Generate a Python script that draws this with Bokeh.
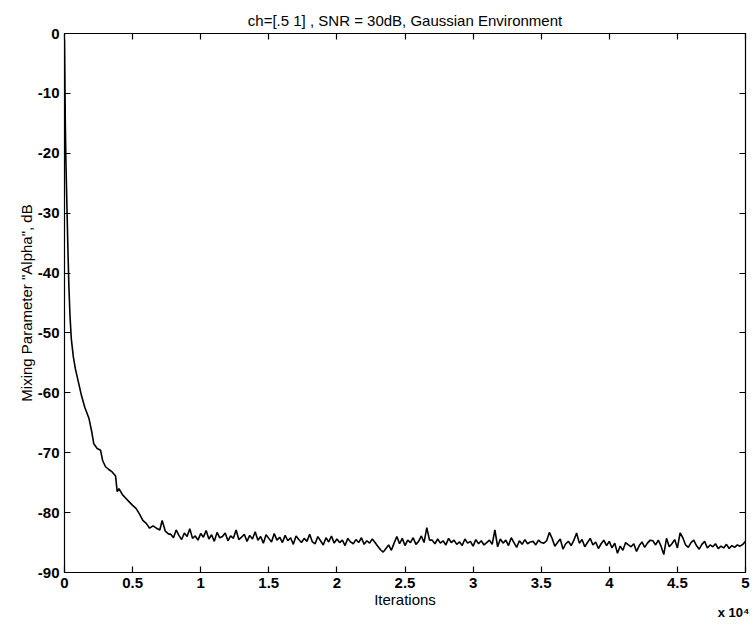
from bokeh.plotting import figure
from bokeh.models import FixedTicker, LinearAxis, Title, Range1d, ColumnDataSource
from bokeh.embed import file_html
from bokeh.resources import INLINE

# ---- data ----
# early transient: iteration, alpha (dB)
early_iter = [0, 30, 60, 100, 150, 200, 250, 320, 400, 500, 650, 800, 1000, 1250,
              1500, 1800, 2000, 2150, 2400, 2650, 2800, 3000, 3250, 3500, 3750,
              3870, 4000, 4250, 4500, 4750, 5000, 5250, 5500, 5750, 6000, 6250,
              6500, 6750, 7000, 7170, 7400, 7650]
early_alpha = [-1.0, -8.0, -15.0, -21.0, -26.0, -31.0, -36.0, -42.0, -47.0, -51.0,
               -54.0, -56.0, -58.0, -60.5, -62.5, -64.3, -66.5, -68.5, -69.3, -69.6,
               -71.3, -72.3, -72.8, -73.2, -73.9, -76.5, -76.0, -77.0, -77.6, -78.2,
               -78.8, -79.3, -80.2, -81.3, -81.8, -82.6, -82.2, -82.6, -82.9, -81.3,
               -83.1, -83.6]

# steady state: one reading every 200 iterations from 7800 to 50000
steady_start = 7800
steady_step = 200
steady_alpha = [
    -83.6, -84.2, -82.9, -83.8, -84.5, -83.4, -84.0, -82.7, -84.3, -83.9,
    -84.6, -83.5, -84.1, -83.0, -84.4, -83.7, -84.8, -83.3, -84.2, -84.0,
    -83.4, -84.7, -83.9, -84.3, -82.9, -84.5, -84.1, -83.6, -84.8, -83.8,
    -84.4, -83.2, -84.6, -84.0, -85.1, -83.7, -84.3, -84.9, -83.5, -84.6,
    -84.1, -85.0, -83.8, -84.7, -84.2, -85.3, -83.9, -84.5, -85.0, -84.3,
    -84.8, -83.6, -84.9, -85.2, -84.0, -84.7, -85.4, -84.2, -84.9, -83.9,
    -85.1, -84.4, -85.0, -84.6, -85.5, -84.3, -84.9, -85.2, -84.5, -85.0,
    -84.2, -85.3, -84.7, -85.1, -84.4, -85.0, -85.6, -86.2, -86.6, -86.0,
    -85.4, -86.3, -85.1, -84.0, -85.2, -84.3, -85.5, -84.6, -85.0, -84.2,
    -85.3, -84.8, -83.9, -85.0, -82.5, -84.6, -84.6, -85.2, -84.4, -85.1,
    -84.7, -85.4, -84.3, -85.0, -84.6, -85.3, -84.9, -85.5, -84.4, -85.1,
    -84.8, -85.6, -84.5, -85.2, -84.7, -85.4, -85.0, -84.6, -85.3, -82.9,
    -85.7, -84.4, -85.1, -84.6, -85.5, -84.2, -85.0, -85.8, -84.7, -85.3,
    -84.5, -85.2, -84.9, -84.8, -85.4, -84.6, -85.0, -85.1, -84.7, -83.3,
    -84.3, -85.6, -85.0, -84.4, -86.1, -85.2, -84.8, -85.5, -84.6, -83.4,
    -85.1, -84.5, -85.7, -85.0, -84.3, -85.4, -84.9, -86.0, -85.2, -84.6,
    -85.5, -84.8, -85.9, -85.1, -86.8, -85.6, -86.3, -85.0, -85.4, -85.7,
    -85.2, -86.5, -85.5, -84.9, -85.8, -85.1, -84.6, -84.7, -85.4, -84.6,
    -85.6, -87.0, -84.3, -85.7, -85.2, -84.5, -85.9, -83.4, -84.2, -85.4,
    -85.8, -85.0, -84.6, -85.5, -86.1, -85.3, -84.8, -85.9, -85.4, -85.7,
    -85.2, -86.0, -85.6, -85.9, -85.3, -86.0, -85.5, -85.8, -85.4, -85.6,
    -85.3, -84.8,
]

x_ticks = [0, 5000, 10000, 15000, 20000, 25000, 30000, 35000, 40000, 45000, 50000]
x_tick_labels = ["0", "0.5", "1", "1.5", "2", "2.5", "3", "3.5", "4", "4.5", "5"]
y_ticks = [0, -10, -20, -30, -40, -50, -60, -70, -80, -90]
y_tick_labels = ["0", "-10", "-20", "-30", "-40", "-50", "-60", "-70", "-80", "-90"]

title_text = "ch=[.5 1] , SNR = 30dB, Gaussian Environment"
x_label = "Iterations"
y_label = 'Mixing Parameter "Alpha", dB'
x_mult = "x 10\u2074"

# ---- build series ----
steady_iter = [steady_start + steady_step * i for i in range(len(steady_alpha))]
iters = early_iter + steady_iter
alpha = early_alpha + steady_alpha
src = ColumnDataSource(dict(x=iters, y=alpha))

FONT = "Liberation Sans"

p = figure(width=755, height=625, output_backend="svg", toolbar_location=None,
           x_range=Range1d(0, 50000), y_range=Range1d(-90, 0),
           min_border_left=64, min_border_right=10, min_border_top=33,
           min_border_bottom=53)
p.title.text = title_text
p.title.align = "center"
p.title.vertical_align = "middle"
p.title.text_font = FONT
p.title.text_font_size = "15px"
p.title.text_font_style = "normal"
p.title.text_color = "black"
p.title.standoff = 8

p.grid.visible = False
p.outline_line_color = "black"
p.outline_line_width = 1.2
p.background_fill_color = "white"
p.border_fill_color = "white"

p.line("x", "y", source=src, line_color="black", line_width=1.6)

xt = FixedTicker(ticks=x_ticks)
yt = FixedTicker(ticks=y_ticks)

for ax in (p.xaxis[0], p.yaxis[0]):
    ax.major_tick_in = 6
    ax.major_tick_out = 0
    ax.minor_tick_line_color = None
    ax.axis_line_color = "black"
    ax.major_tick_line_color = "black"
    ax.major_tick_line_width = 1.2
    ax.major_label_text_font = FONT
    ax.major_label_text_font_size = "15px"
    ax.major_label_text_font_style = "bold"
    ax.major_label_text_color = "black"
    ax.axis_label_text_font = FONT
    ax.axis_label_text_font_size = "15px"
    ax.axis_label_text_font_style = "normal"
    ax.axis_label_text_color = "black"

p.xaxis[0].ticker = xt
p.xaxis[0].major_label_overrides = {t: l for t, l in zip(x_ticks, x_tick_labels)}
p.xaxis[0].axis_label = x_label
p.xaxis[0].major_label_standoff = 5
p.xaxis[0].axis_label_standoff = 0

p.yaxis[0].ticker = yt
p.yaxis[0].major_label_overrides = {t: l for t, l in zip(y_ticks, y_tick_labels)}
p.yaxis[0].axis_label = y_label
p.yaxis[0].major_label_standoff = 5
p.yaxis[0].axis_label_standoff = 0

top_ax = LinearAxis(ticker=xt, major_tick_in=6, major_tick_out=0,
                    minor_tick_line_color=None, major_label_text_font_size="1px",
                    major_label_text_color=None, major_label_standoff=0,
                    axis_line_color="black", major_tick_line_color="black",
                    major_tick_line_width=1.2)
p.add_layout(top_ax, "above")
right_ax = LinearAxis(ticker=yt, major_tick_in=6, major_tick_out=0,
                      minor_tick_line_color=None, major_label_text_font_size="1px",
                      major_label_text_color=None, major_label_standoff=0,
                      axis_line_color="black", major_tick_line_color="black",
                      major_tick_line_width=1.2)
p.add_layout(right_ax, "right")

p.add_layout(Title(text=x_mult, align="right", text_font=FONT,
                   text_font_size="13px", text_font_style="bold",
                   text_color="black", standoff=-16, offset=-4), "below")

open("out.html", "w").write(file_html(p, INLINE))
